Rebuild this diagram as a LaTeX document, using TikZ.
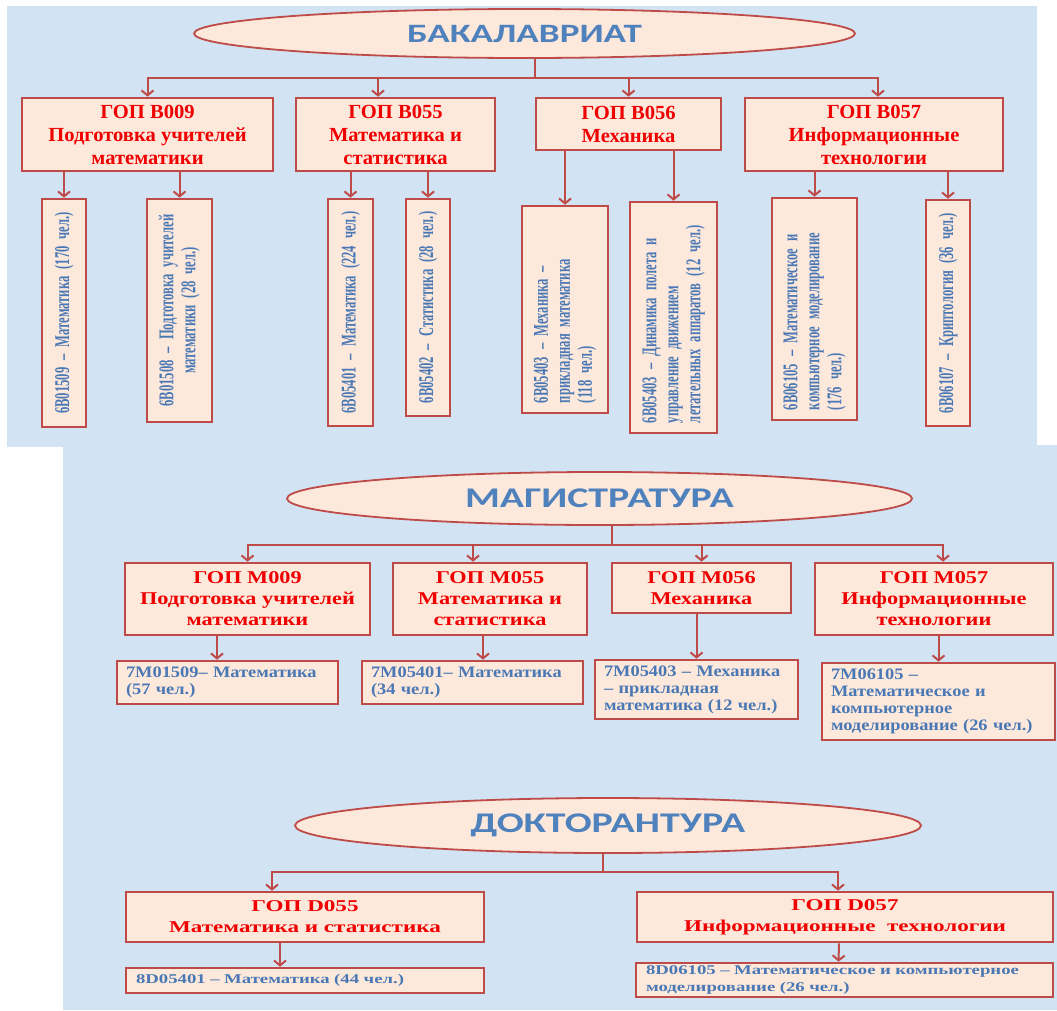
\documentclass[tikz,border=0pt]{standalone}
\usepackage{fontspec}
\setmainfont{Liberation Serif}
\newfontfamily\ovalfont[FakeStretch=1.4]{Carlito}
\newfontfamily\topfont[FakeStretch=1.03]{Liberation Serif}
\newfontfamily\vertfont[FakeStretch=0.6,WordSpace=0.7]{Liberation Serif}
\newfontfamily\magfont[FakeStretch=1.24]{Liberation Serif}
\newfontfamily\magleaffont[FakeStretch=1.15]{Liberation Serif}
\newfontfamily\docfont[FakeStretch=1.4]{Liberation Serif}
\usetikzlibrary{arrows.meta,positioning,shapes.geometric}
\definecolor{panelblue}{HTML}{D2E3F3}
\definecolor{boxfill}{HTML}{FDE9DC}
\definecolor{boxline}{HTML}{BE4B48}
\definecolor{titlered}{HTML}{F00000}
\definecolor{leafblue}{HTML}{4A78B4}
\definecolor{ovaltext}{HTML}{4F81BD}

\begin{document}
\begin{tikzpicture}[x=1pt,y=-1pt,
    oval/.style={ellipse,draw=boxline,line width=1.8pt,fill=boxfill,inner sep=0pt,text=ovaltext},
    gop/.style={rectangle,draw=boxline,line width=2.6pt,fill=boxfill,inner sep=0pt,text=titlered,align=center},
    topgop/.style={gop,font=\topfont\bfseries\fontsize{20}{23}\selectfont},
    maggop/.style={gop,font=\magfont\bfseries\fontsize{18}{21}\selectfont},
    docgop/.style={gop,font=\docfont\bfseries\fontsize{16.5}{21}\selectfont},
    leaf/.style={rectangle,draw=boxline,line width=2.6pt,fill=boxfill,inner ysep=0pt,inner xsep=10pt,text=leafblue,align=left},
    vleaf/.style={leaf,rotate=90,align=center,font=\vertfont\bfseries\fontsize{21}{22}\selectfont},
    magleaf/.style={leaf,inner xsep=9pt,font=\magleaffont\bfseries\fontsize{16}{17}\selectfont},
    docleaf/.style={leaf,font=\docfont\bfseries\fontsize{13.4}{17}\selectfont},
    arr/.style={draw=boxline,line width=2pt,-{Straight Barb[length=5pt,width=12pt]}},
    trunk/.style={draw=boxline,line width=2pt},
]
\useasboundingbox (0,0) rectangle (1057,1010);
\fill[white] (0,0) rectangle (1057,1010);
\fill[panelblue] (7,6) rectangle (1037,447);
\fill[panelblue] (63,445) rectangle (1057,1010);

% bachelor level
\node[oval,minimum width=661pt,minimum height=49pt,font=\ovalfont\bfseries\fontsize{26.5}{30}\selectfont] (bak) at (524.5,33.5) {БАКАЛАВРИАТ};
\node[topgop,minimum width=251pt,minimum height=73pt] (b009) at (147.5,134.5) {ГОП B009\\Подготовка учителей\\математики};
\node[topgop,minimum width=199pt,minimum height=73pt] (b055) at (395.5,134.5) {ГОП B055\\Математика и\\статистика};
\node[topgop,minimum width=185pt,minimum height=52pt] (b056) at (628.5,124) {ГОП B056\\Механика};
\node[topgop,minimum width=258pt,minimum height=73pt] (b057) at (874,134.5) {ГОП B057\\Информационные\\технологии};

\node[vleaf,minimum width=228pt,minimum height=44pt,text width=208pt] (v1) at (64,313) {6B01509 – Математика (170 чел.)};
\node[vleaf,minimum width=223pt,minimum height=65pt,text width=203pt] (v2) at (179.5,310.5) {6B01508 – Подготовка учителей\\математики (28 чел.)};
\node[vleaf,minimum width=227pt,minimum height=45pt,text width=207pt] (v3) at (350.5,312.5) {6B05401 – Математика (224 чел.)};
\node[vleaf,minimum width=217pt,minimum height=44pt,text width=197pt] (v4) at (428,307.5) {6B05402 – Статистика (28 чел.)};
\node[vleaf,align=left,minimum width=203pt,minimum height=86pt,text width=187pt] (v5) at (565,309.5) {6B05403 – Механика –\\прикладная математика\\(118 чел.)};
\node[vleaf,align=left,minimum width=227pt,minimum height=87pt,text width=211pt] (v6) at (673.5,317.5) {6B05403 – Динамика полета и\\управление движением\\летательных аппаратов (12 чел.)};
\node[vleaf,align=left,minimum width=218pt,minimum height=85pt,text width=202pt] (v7) at (814.5,309) {6B06105 – Математическое и\\компьютерное моделирование\\(176 чел.)};
\node[vleaf,minimum width=226pt,minimum height=44pt,text width=206pt] (v8) at (948,313) {6B06107 – Криптология (36 чел.)};

\coordinate (bakj) at (535,78);
\draw[trunk] (bakj |- bak.south) -- (bakj);
\draw[arr] (bakj) -| (b009.north);
\draw[arr] (bakj) -| ([xshift=-17.5pt]b055.north);
\draw[arr] (bakj) -| (b056.north);
\draw[arr] (bakj) -| ([xshift=4pt]b057.north);

\draw[arr] (v1.east |- b009.south) -- (v1.east);
\draw[arr] (v2.east |- b009.south) -- (v2.east);
\draw[arr] (v3.east |- b055.south) -- (v3.east);
\draw[arr] (v4.east |- b055.south) -- (v4.east);
\draw[arr] (v5.east |- b056.south) -- (v5.east);
\draw[arr] (v6.east |- b056.south) -- (v6.east);
\draw[arr] (v7.east |- b057.south) -- (v7.east);
\draw[arr] (v8.east |- b057.south) -- (v8.east);

% master level
\node[oval,minimum width=625pt,minimum height=53pt,font=\ovalfont\bfseries\fontsize{28.5}{32}\selectfont] (mag) at (599.5,498.5) {МАГИСТРАТУРА};
\node[maggop,minimum width=245pt,minimum height=72pt] (m009) at (247.5,599) {ГОП M009\\Подготовка учителей\\математики};
\node[maggop,minimum width=194pt,minimum height=72pt] (m055) at (490,599) {ГОП M055\\Математика и\\статистика};
\node[maggop,minimum width=179pt,minimum height=50pt] (m056) at (701.5,588) {ГОП M056\\Механика};
\node[maggop,minimum width=238pt,minimum height=72pt] (m057) at (934,599) {ГОП M057\\Информационные\\технологии};

\node[magleaf,minimum width=221pt,minimum height=43pt,text width=203pt] (ml1) at (227.5,682.5) {7M01509– Математика\\(57 чел.)};
\node[magleaf,minimum width=221pt,minimum height=43pt,text width=203pt] (ml2) at (472.5,682.5) {7M05401– Математика\\(34 чел.)};
\node[magleaf,minimum width=203pt,minimum height=59pt,text width=185pt] (ml3) at (696.5,689.5) {7M05403 – Механика\\– прикладная\\математика (12 чел.)};
\node[magleaf,minimum width=233pt,minimum height=77pt,text width=215pt] (ml4) at (938.5,701.5) {7M06105 –\\Математическое и\\компьютерное\\моделирование (26 чел.)};

\coordinate (magj) at (612,545);
\draw[trunk] (magj |- mag.south) -- (magj);
\draw[arr] (magj) -| (m009.north);
\draw[arr] (magj) -| ([xshift=-17pt]m055.north);
\draw[arr] (magj) -| (m056.north);
\draw[arr] (magj) -| ([xshift=9pt]m057.north);

\draw[arr] ([xshift=-30.5pt]m009.south) -- ([xshift=-10.5pt]ml1.north);
\draw[arr] ([xshift=-7pt]m055.south) -- ([xshift=10.5pt]ml2.north);
\draw[arr] (ml3.north |- m056.south) -- (ml3.north);
\draw[arr] (ml4.north |- m057.south) -- (ml4.north);

% doctoral level
\node[oval,minimum width=626pt,minimum height=55pt,font=\ovalfont\bfseries\fontsize{28.5}{33}\selectfont] (dok) at (608,825.5) {ДОКТОРАНТУРА};
\node[docgop,minimum width=358pt,minimum height=50pt] (d055) at (305,917) {ГОП D055\\Математика и статистика};
\node[docgop,minimum width=416pt,minimum height=50pt] (d057) at (845,917) {ГОП D057\\Информационные\ \ технологии};

\node[docleaf,minimum width=358pt,minimum height=25pt,text width=338pt] (dl1) at (305,980.5) {8D05401 – Математика (44 чел.)};
\node[docleaf,minimum width=417pt,minimum height=34pt,text width=397pt] (dl2) at (844.5,980) {8D06105 – Математическое и компьютерное\\моделирование (26 чел.)};

\coordinate (dokj) at (603,872);
\draw[trunk] (dokj |- dok.south) -- (dokj);
\draw[arr] (dokj) -| ([xshift=-33pt]d055.north);
\draw[arr] (dokj) -| ([xshift=-7pt]d057.north);

\draw[arr] ([xshift=-25pt]d055.south) -- ([xshift=-25pt]dl1.north);
\draw[arr] ([xshift=-6pt]d057.south) -- ([xshift=-6pt]dl2.north);
\end{tikzpicture}
\end{document}
